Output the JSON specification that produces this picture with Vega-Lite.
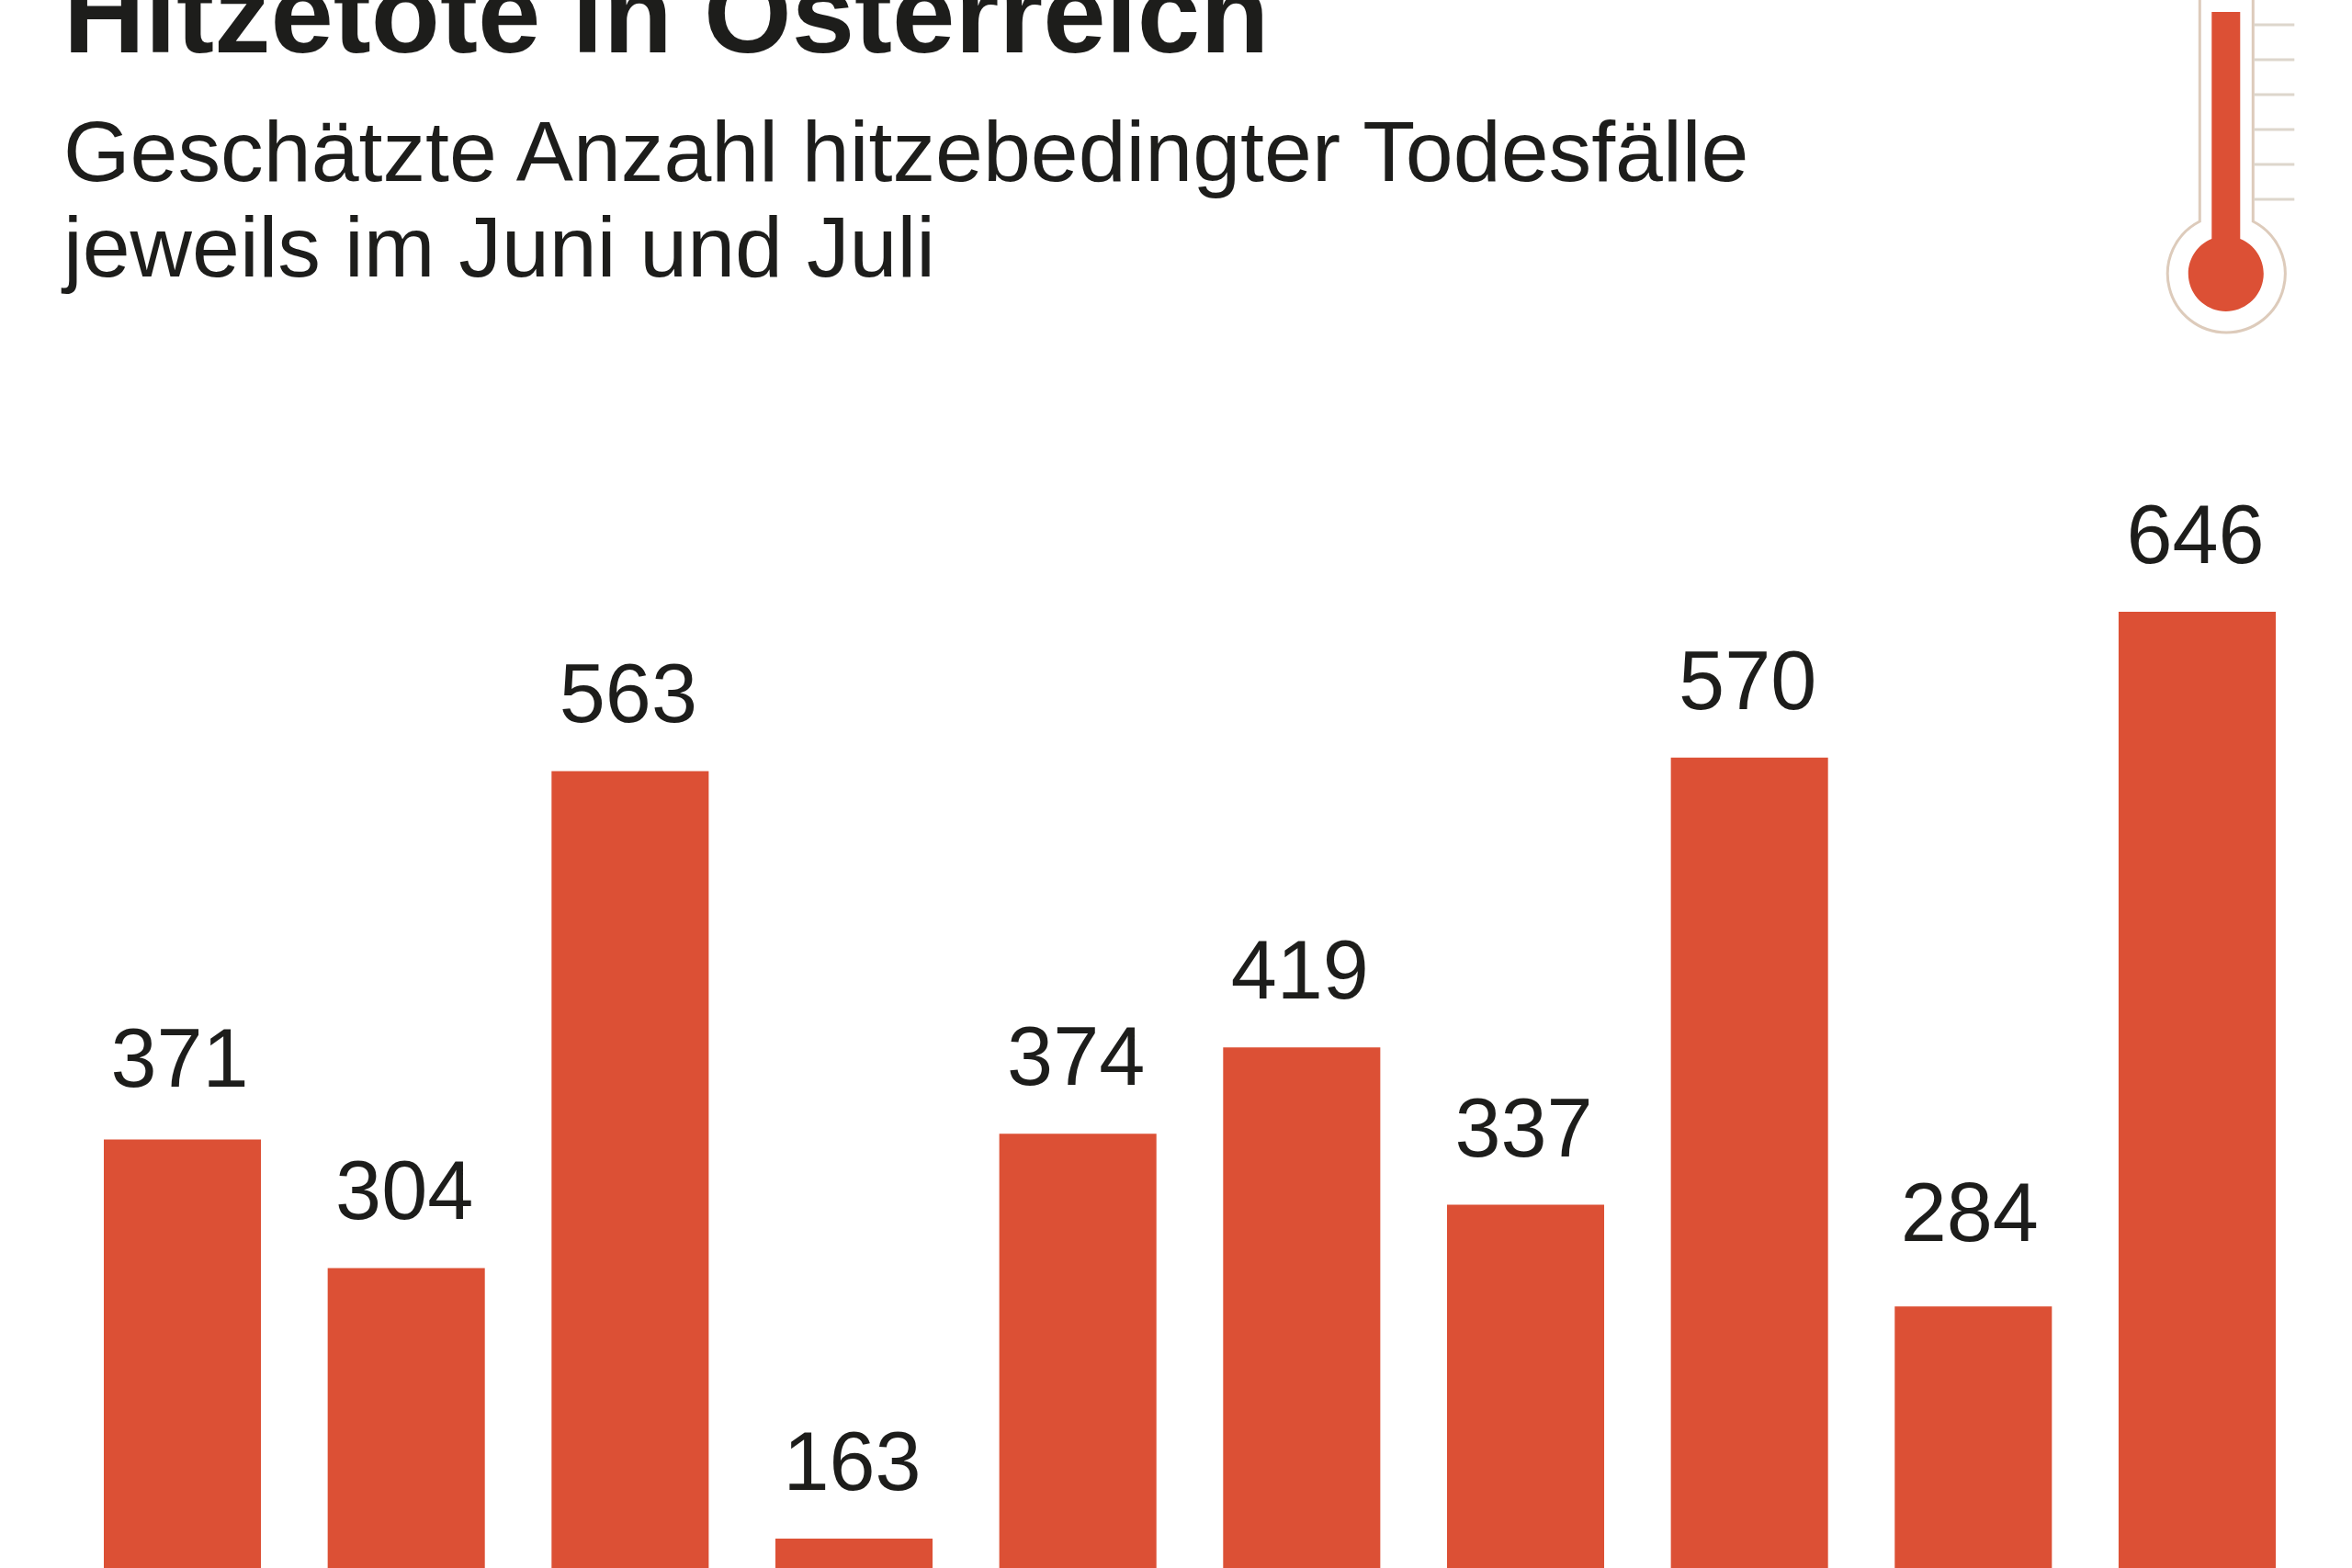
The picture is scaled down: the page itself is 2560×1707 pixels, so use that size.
{
  "$schema": "https://vega.github.io/schema/vega-lite/v6.json",
  "description": "Geschätzte hitzebedingte Todesfälle in Österreich, jeweils im Juni und Juli.",
  "width": 2364,
  "height": 1707,
  "autosize": "none",
  "padding": {"left": 113, "right": 83, "top": 0, "bottom": 0},
  "background": "#ffffff",
  "config": {"view": {"stroke": null}},
  "title": {
    "text": "Hitzetote in Österreich",
    "subtitle": ["Geschätzte Anzahl hitzebedingter Todesfälle", "jeweils im Juni und Juli"],
    "anchor": "start",
    "frame": "group",
    "orient": "top",
    "offset": -336,
    "dx": -44,
    "font": "Liberation Sans",
    "fontSize": 123,
    "fontWeight": "bold",
    "color": "#1d1d1b",
    "subtitleFont": "Liberation Sans",
    "subtitleFontSize": 93.3,
    "subtitleFontWeight": "normal",
    "subtitleColor": "#1d1d1b",
    "subtitleLineHeight": 104,
    "subtitlePadding": 40
  },
  "datasets": {
    "deaths": [
      {"year": "2016", "deaths": 371},
      {"year": "2017", "deaths": 304},
      {"year": "2018", "deaths": 563},
      {"year": "2019", "deaths": 163},
      {"year": "2020", "deaths": 374},
      {"year": "2021", "deaths": 419},
      {"year": "2022", "deaths": 337},
      {"year": "2023", "deaths": 570},
      {"year": "2024", "deaths": 284},
      {"year": "2025", "deaths": 646}
    ],
    "icon": [
      {"year": "2025", "level": 893}
    ]
  },
  "encoding": {
    "x": {
      "field": "year",
      "type": "nominal",
      "axis": null,
      "scale": {"paddingInner": 0.298, "paddingOuter": 0}
    }
  },
  "layer": [
    {
      "data": {"name": "deaths"},
      "mark": {"type": "bar", "color": "#dc5035", "clip": true},
      "encoding": {
        "y": {
          "field": "deaths",
          "type": "quantitative",
          "axis": null,
          "scale": {"domain": [147.7, 964.8], "zero": false, "nice": false}
        }
      }
    },
    {
      "data": {"name": "deaths"},
      "transform": [{"filter": "datum.deaths != 284 && datum.deaths != 371"}],
      "mark": {
        "type": "text",
        "baseline": "alphabetic",
        "dx": -2,
        "dy": -53,
        "font": "Liberation Sans",
        "fontSize": 90,
        "color": "#1d1d1b"
      },
      "encoding": {
        "y": {"field": "deaths", "type": "quantitative"},
        "text": {"field": "deaths", "type": "quantitative"}
      }
    },
    {
      "data": {"name": "deaths"},
      "transform": [{"filter": "datum.deaths == 371"}],
      "mark": {
        "type": "text",
        "baseline": "alphabetic",
        "dx": -3,
        "dy": -58,
        "font": "Liberation Sans",
        "fontSize": 90,
        "color": "#1d1d1b"
      },
      "encoding": {
        "y": {"field": "deaths", "type": "quantitative"},
        "text": {"field": "deaths", "type": "quantitative"}
      }
    },
    {
      "data": {"name": "deaths"},
      "transform": [{"filter": "datum.deaths == 284"}],
      "mark": {
        "type": "text",
        "baseline": "alphabetic",
        "dx": -4,
        "dy": -71,
        "font": "Liberation Sans",
        "fontSize": 90,
        "color": "#1d1d1b"
      },
      "encoding": {
        "y": {"field": "deaths", "type": "quantitative"},
        "text": {"field": "deaths", "type": "quantitative"}
      }
    },
    {
      "data": {"name": "icon"},
      "mark": {
        "type": "point",
        "shape": "M-29,-160V91A64,64 0 1 0 29,91V-160",
        "size": 4,
        "filled": false,
        "stroke": "#ddcbbb",
        "strokeWidth": 3,
        "opacity": 1
      },
      "encoding": {
        "x": {"field": "year", "type": "nominal", "bandPosition": 0.686},
        "y": {"field": "level", "type": "quantitative"}
      }
    },
    {
      "data": {"name": "icon"},
      "mark": {
        "type": "point",
        "shape": "M30,-123H74M30,-85H74M30,-47H74M30,-9H74M30,29H74M30,67H74",
        "size": 4,
        "filled": false,
        "stroke": "#ddd6cc",
        "strokeWidth": 3,
        "opacity": 1
      },
      "encoding": {
        "x": {"field": "year", "type": "nominal", "bandPosition": 0.686},
        "y": {"field": "level", "type": "quantitative"}
      }
    },
    {
      "data": {"name": "icon"},
      "mark": {
        "type": "point",
        "shape": "M-16,-137H15V110A41,41 0 1 1 -16,110Z",
        "size": 4,
        "filled": true,
        "color": "#dc5035",
        "opacity": 1
      },
      "encoding": {
        "x": {"field": "year", "type": "nominal", "bandPosition": 0.686},
        "y": {"field": "level", "type": "quantitative"}
      }
    }
  ]
}
